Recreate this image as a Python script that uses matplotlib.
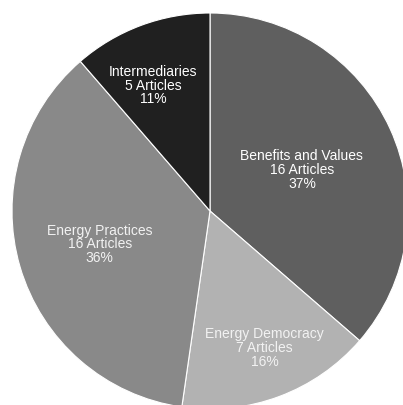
import numpy as np
import matplotlib.pyplot as plt

categories = ["Benefits and Values", "Energy Democracy", "Energy Practices", "Intermediaries"]
articles = [16, 7, 16, 5]
percent_labels = ["37%", "16%", "36%", "11%"]
colors = ["#5f5f5f", "#b2b2b2", "#898989", "#202020"]
text_colors = ["#ffffff", "#f2f2f2", "#f2f2f2", "#ffffff"]
# label placement: fraction of radius and a small turn off the wedge middle (degrees)
label_r = [0.51, 0.74, 0.58, 0.70]
label_turn = [0, 1.5, 0, 3.8]

plt.rcParams['font.family'] = ['Liberation Sans', 'DejaVu Sans']

fig = plt.figure(figsize=(4.03, 4.06), dpi=100)
ax = fig.add_axes([0, 0, 1, 1])

wedges, _ = ax.pie(articles, colors=colors, startangle=90, counterclock=False,
                   wedgeprops={'edgecolor': 'white', 'linewidth': 0.8})

for w, name, n, pct, tc, r, t in zip(wedges, categories, articles, percent_labels,
                                      text_colors, label_r, label_turn):
    mid = np.deg2rad((w.theta1 + w.theta2) / 2 + t)
    ax.text(r * np.cos(mid), r * np.sin(mid), f"{name}\n{n} Articles\n{pct}",
            ha='center', va='center', fontsize=10, color=tc, linespacing=0.97)

# pie centre at (210, 212) px, radius 198 px; it runs off the right and bottom edges
scale = 198.0
ax.set_xlim(-210 / scale, (403 - 210) / scale)
ax.set_ylim(-(406 - 212) / scale, 212 / scale)
ax.set_aspect('auto')
ax.axis('off')

fig.savefig('out.png', dpi=100, facecolor='white')
